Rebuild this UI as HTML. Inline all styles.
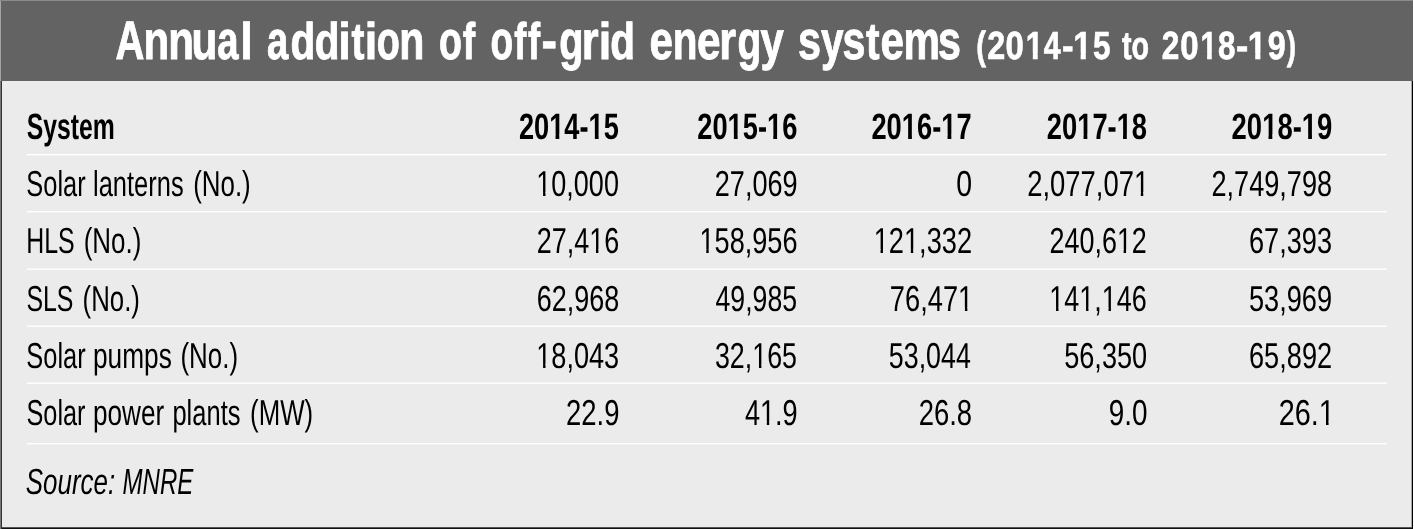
<!DOCTYPE html>
<html><head><meta charset="utf-8"><title>Annual addition of off-grid energy systems</title>
<style>
html,body{margin:0;padding:0;background:#fff;width:1414px;height:529px;overflow:hidden}
svg{display:block;will-change:transform;font-family:"Liberation Sans",sans-serif}
</style></head><body>
<svg width="1414" height="529" viewBox="0 0 1414 529">
<rect x="0" y="0" width="1413" height="1" fill="#8a8a8a"/>
<rect x="0" y="1" width="1" height="80" fill="#a5a5a5"/>
<rect x="0" y="81" width="1" height="448" fill="#777"/>
<rect x="1" y="1" width="1412" height="80" fill="#636363"/>
<rect x="1" y="81" width="1" height="448" fill="#333"/>
<rect x="1411" y="81" width="1" height="446" fill="#a8a8a8"/>
<rect x="1412" y="81" width="1" height="448" fill="#000"/>
<rect x="2" y="527" width="1410" height="1" fill="#555"/>
<rect x="2" y="528" width="1410" height="1" fill="#111"/>
<rect x="2" y="81" width="1409" height="446" fill="#ebebeb"/>
<rect x="27" y="154.0" width="1360" height="1.4" fill="#fff"/><rect x="27" y="211.0" width="1360" height="1.4" fill="#fff"/><rect x="27" y="268.5" width="1360" height="1.4" fill="#fff"/><rect x="27" y="325.5" width="1360" height="1.4" fill="#fff"/><rect x="27" y="382.5" width="1360" height="1.4" fill="#fff"/><rect x="27" y="443.0" width="1360" height="1.4" fill="#fff"/>
<g transform="translate(115.41 58.60) scale(0.7374 1.0000) skewX(0.05)"><text id="t0" font-size="54.215" font-weight="bold" fill="#fff" stroke="#fff" stroke-width="0.8" vector-effect="non-scaling-stroke">A</text></g>
<g transform="translate(143.38 58.60) scale(0.7771 1.0000) skewX(0.05)"><text id="t1" font-size="54.215" font-weight="bold" fill="#fff" stroke="#fff" stroke-width="0.8" vector-effect="non-scaling-stroke">n</text></g>
<g transform="translate(168.28 58.60) scale(0.7771 1.0000) skewX(0.05)"><text id="t2" font-size="54.215" font-weight="bold" fill="#fff" stroke="#fff" stroke-width="0.8" vector-effect="non-scaling-stroke">n</text></g>
<g transform="translate(191.62 58.60) scale(0.7816 1.0000) skewX(0.05)"><text id="t3" font-size="54.215" font-weight="bold" fill="#fff" stroke="#fff" stroke-width="0.8" vector-effect="non-scaling-stroke">u</text></g>
<g transform="translate(217.28 58.60) scale(0.7062 1.0000) skewX(0.05)"><text id="t4" font-size="54.215" font-weight="bold" fill="#fff" stroke="#fff" stroke-width="0.8" vector-effect="non-scaling-stroke">a</text></g>
<g transform="translate(240.27 58.60) scale(0.8333 0.9495) skewX(0.05)"><text id="t5" font-size="54.215" font-weight="bold" fill="#fff" stroke="#fff" stroke-width="0.8" vector-effect="non-scaling-stroke">l</text></g>
<g transform="translate(266.98 58.60) scale(0.7062 1.0000) skewX(0.05)"><text id="t6" font-size="54.215" font-weight="bold" fill="#fff" stroke="#fff" stroke-width="0.8" vector-effect="non-scaling-stroke">a</text></g>
<g transform="translate(290.54 58.60) scale(0.7476 0.9495) skewX(0.05)"><text id="t7" font-size="54.215" font-weight="bold" fill="#fff" stroke="#fff" stroke-width="0.8" vector-effect="non-scaling-stroke">d</text></g>
<g transform="translate(314.64 58.60) scale(0.7476 0.9495) skewX(0.05)"><text id="t8" font-size="54.215" font-weight="bold" fill="#fff" stroke="#fff" stroke-width="0.8" vector-effect="non-scaling-stroke">d</text></g>
<g transform="translate(338.18 58.60) scale(0.8326 0.9495) skewX(0.05)"><text id="t9" font-size="54.215" font-weight="bold" fill="#fff" stroke="#fff" stroke-width="0.8" vector-effect="non-scaling-stroke">i</text></g>
<g transform="translate(351.39 58.60) scale(0.7176 0.9570) skewX(0.05)"><text id="t10" font-size="54.215" font-weight="bold" fill="#fff" stroke="#fff" stroke-width="0.8" vector-effect="non-scaling-stroke">t</text></g>
<g transform="translate(364.68 58.60) scale(0.8326 0.9495) skewX(0.05)"><text id="t11" font-size="54.215" font-weight="bold" fill="#fff" stroke="#fff" stroke-width="0.8" vector-effect="non-scaling-stroke">i</text></g>
<g transform="translate(376.69 58.60) scale(0.6963 1.0000) skewX(0.05)"><text id="t12" font-size="54.215" font-weight="bold" fill="#fff" stroke="#fff" stroke-width="0.8" vector-effect="non-scaling-stroke">o</text></g>
<g transform="translate(399.23 58.60) scale(0.7586 1.0000) skewX(0.05)"><text id="t13" font-size="54.215" font-weight="bold" fill="#fff" stroke="#fff" stroke-width="0.8" vector-effect="non-scaling-stroke">n</text></g>
<g transform="translate(438.99 58.60) scale(0.6929 1.0000) skewX(0.05)"><text id="t14" font-size="54.215" font-weight="bold" fill="#fff" stroke="#fff" stroke-width="0.8" vector-effect="non-scaling-stroke">o</text></g>
<g transform="translate(462.69 58.60) scale(0.6895 0.9495) skewX(0.05)"><text id="t15" font-size="54.215" font-weight="bold" fill="#fff" stroke="#fff" stroke-width="0.8" vector-effect="non-scaling-stroke">f</text></g>
<g transform="translate(490.51 58.60) scale(0.6828 1.0000) skewX(0.05)"><text id="t16" font-size="54.215" font-weight="bold" fill="#fff" stroke="#fff" stroke-width="0.8" vector-effect="non-scaling-stroke">o</text></g>
<g transform="translate(514.20 58.60) scale(0.6729 0.9495) skewX(0.05)"><text id="t17" font-size="54.215" font-weight="bold" fill="#fff" stroke="#fff" stroke-width="0.8" vector-effect="non-scaling-stroke">f</text></g>
<g transform="translate(527.90 58.60) scale(0.6729 0.9495) skewX(0.05)"><text id="t18" font-size="54.215" font-weight="bold" fill="#fff" stroke="#fff" stroke-width="0.8" vector-effect="non-scaling-stroke">f</text></g>
<g transform="translate(541.53 58.60) scale(0.8594 1.0000) skewX(0.05)"><text id="t19" font-size="54.215" font-weight="bold" fill="#fff" stroke="#fff" stroke-width="0.8" vector-effect="non-scaling-stroke">-</text></g>
<g transform="translate(559.28 58.60) scale(0.7305 1.0000) skewX(0.05)"><text id="t20" font-size="54.215" font-weight="bold" fill="#fff" stroke="#fff" stroke-width="0.8" vector-effect="non-scaling-stroke">g</text></g>
<g transform="translate(581.70 58.60) scale(0.8015 1.0000) skewX(0.05)"><text id="t21" font-size="54.215" font-weight="bold" fill="#fff" stroke="#fff" stroke-width="0.8" vector-effect="non-scaling-stroke">r</text></g>
<g transform="translate(598.68 58.60) scale(0.8326 0.9495) skewX(0.05)"><text id="t22" font-size="54.215" font-weight="bold" fill="#fff" stroke="#fff" stroke-width="0.8" vector-effect="non-scaling-stroke">i</text></g>
<g transform="translate(610.14 58.60) scale(0.7476 0.9495) skewX(0.05)"><text id="t23" font-size="54.215" font-weight="bold" fill="#fff" stroke="#fff" stroke-width="0.8" vector-effect="non-scaling-stroke">d</text></g>
<g transform="translate(649.56 58.60) scale(0.7781 1.0000) skewX(0.05)"><text id="t24" font-size="54.215" font-weight="bold" fill="#fff" stroke="#fff" stroke-width="0.8" vector-effect="non-scaling-stroke">e</text></g>
<g transform="translate(672.67 58.60) scale(0.7475 1.0000) skewX(0.05)"><text id="t25" font-size="54.215" font-weight="bold" fill="#fff" stroke="#fff" stroke-width="0.8" vector-effect="non-scaling-stroke">n</text></g>
<g transform="translate(696.95 58.60) scale(0.7818 1.0000) skewX(0.05)"><text id="t26" font-size="54.215" font-weight="bold" fill="#fff" stroke="#fff" stroke-width="0.8" vector-effect="non-scaling-stroke">e</text></g>
<g transform="translate(719.22 58.60) scale(0.7958 1.0000) skewX(0.05)"><text id="t27" font-size="54.215" font-weight="bold" fill="#fff" stroke="#fff" stroke-width="0.8" vector-effect="non-scaling-stroke">r</text></g>
<g transform="translate(737.50 58.60) scale(0.7198 1.0000) skewX(0.05)"><text id="t28" font-size="54.215" font-weight="bold" fill="#fff" stroke="#fff" stroke-width="0.8" vector-effect="non-scaling-stroke">g</text></g>
<g transform="translate(760.57 58.60) scale(0.7721 1.0000) skewX(0.05)"><text id="t29" font-size="54.215" font-weight="bold" fill="#fff" stroke="#fff" stroke-width="0.8" vector-effect="non-scaling-stroke">y</text></g>
<g transform="translate(798.00 58.60) scale(0.7642 1.0000) skewX(0.05)"><text id="t30" font-size="54.215" font-weight="bold" fill="#fff" stroke="#fff" stroke-width="0.8" vector-effect="non-scaling-stroke">s</text></g>
<g transform="translate(821.07 58.60) scale(0.7489 1.0000) skewX(0.05)"><text id="t31" font-size="54.215" font-weight="bold" fill="#fff" stroke="#fff" stroke-width="0.8" vector-effect="non-scaling-stroke">y</text></g>
<g transform="translate(842.40 58.60) scale(0.7604 1.0000) skewX(0.05)"><text id="t32" font-size="54.215" font-weight="bold" fill="#fff" stroke="#fff" stroke-width="0.8" vector-effect="non-scaling-stroke">s</text></g>
<g transform="translate(866.08 58.60) scale(0.7515 0.9570) skewX(0.05)"><text id="t33" font-size="54.215" font-weight="bold" fill="#fff" stroke="#fff" stroke-width="0.8" vector-effect="non-scaling-stroke">t</text></g>
<g transform="translate(880.46 58.60) scale(0.7781 1.0000) skewX(0.05)"><text id="t34" font-size="54.215" font-weight="bold" fill="#fff" stroke="#fff" stroke-width="0.8" vector-effect="non-scaling-stroke">e</text></g>
<g transform="translate(903.54 58.60) scale(0.7577 1.0000) skewX(0.05)"><text id="t35" font-size="54.215" font-weight="bold" fill="#fff" stroke="#fff" stroke-width="0.8" vector-effect="non-scaling-stroke">m</text></g>
<g transform="translate(938.10 58.60) scale(0.7604 1.0000) skewX(0.05)"><text id="t36" font-size="54.215" font-weight="bold" fill="#fff" stroke="#fff" stroke-width="0.8" vector-effect="non-scaling-stroke">s</text></g>
<g transform="translate(976.28 58.60) scale(0.7442 1.0000) skewX(0.05)"><text id="t37" font-size="39.244" font-weight="bold" fill="#fff" stroke="#fff" stroke-width="0.6" vector-effect="non-scaling-stroke">(</text></g>
<g transform="translate(987.25 58.60) scale(0.8254 1.0000) skewX(0.05)"><text id="t38" font-size="39.244" font-weight="bold" fill="#fff" stroke="#fff" stroke-width="0.6" vector-effect="non-scaling-stroke">2</text></g>
<g transform="translate(1005.60 58.60) scale(0.8398 1.0000) skewX(0.05)"><text id="t39" font-size="39.244" font-weight="bold" fill="#fff" stroke="#fff" stroke-width="0.6" vector-effect="non-scaling-stroke">0</text></g>
<g transform="translate(1025.79 58.60) scale(0.8008 1.0000) skewX(0.05)"><text id="t40" font-size="39.244" font-weight="bold" fill="#fff" stroke="#fff" stroke-width="0.6" vector-effect="non-scaling-stroke">1</text><rect x="0.38" y="-5.00" width="8.38" height="6.80" fill="#636363"/><rect x="14.94" y="-5.00" width="7.10" height="6.80" fill="#636363"/></g>
<g transform="translate(1043.64 58.60) scale(0.7752 1.0000) skewX(0.05)"><text id="t41" font-size="39.244" font-weight="bold" fill="#fff" stroke="#fff" stroke-width="0.6" vector-effect="non-scaling-stroke">4</text></g>
<g transform="translate(1062.08 58.60) scale(0.8873 1.0000) skewX(0.05)"><text id="t42" font-size="39.244" font-weight="bold" fill="#fff" stroke="#fff" stroke-width="0.6" vector-effect="non-scaling-stroke">-</text></g>
<g transform="translate(1073.18 58.60) scale(0.8479 1.0000) skewX(0.05)"><text id="t43" font-size="39.244" font-weight="bold" fill="#fff" stroke="#fff" stroke-width="0.6" vector-effect="non-scaling-stroke">1</text><rect x="0.38" y="-5.00" width="8.40" height="6.80" fill="#636363"/><rect x="14.92" y="-5.00" width="7.12" height="6.80" fill="#636363"/></g>
<g transform="translate(1093.10 58.60) scale(0.8030 1.0000) skewX(0.05)"><text id="t44" font-size="39.244" font-weight="bold" fill="#fff" stroke="#fff" stroke-width="0.6" vector-effect="non-scaling-stroke">5</text></g>
<g transform="translate(1122.05 58.60) scale(0.7317 1.0000) skewX(0.05)"><text id="t45" font-size="39.244" font-weight="bold" fill="#fff" stroke="#fff" stroke-width="0.6" vector-effect="non-scaling-stroke">to</text></g>
<g transform="translate(1161.67 58.60) scale(0.8051 1.0000) skewX(0.05)"><text id="t46" font-size="39.244" font-weight="bold" fill="#fff" stroke="#fff" stroke-width="0.6" vector-effect="non-scaling-stroke">2</text></g>
<g transform="translate(1180.20 58.60) scale(0.8398 1.0000) skewX(0.05)"><text id="t47" font-size="39.244" font-weight="bold" fill="#fff" stroke="#fff" stroke-width="0.6" vector-effect="non-scaling-stroke">0</text></g>
<g transform="translate(1200.51 58.60) scale(0.7537 1.0000) skewX(0.05)"><text id="t48" font-size="39.244" font-weight="bold" fill="#fff" stroke="#fff" stroke-width="0.6" vector-effect="non-scaling-stroke">1</text><rect x="0.38" y="-5.00" width="8.36" height="6.80" fill="#636363"/><rect x="14.96" y="-5.00" width="7.08" height="6.80" fill="#636363"/></g>
<g transform="translate(1217.92 58.60) scale(0.7993 1.0000) skewX(0.05)"><text id="t49" font-size="39.244" font-weight="bold" fill="#fff" stroke="#fff" stroke-width="0.6" vector-effect="non-scaling-stroke">8</text></g>
<g transform="translate(1236.01 58.60) scale(0.9427 1.0000) skewX(0.05)"><text id="t50" font-size="39.244" font-weight="bold" fill="#fff" stroke="#fff" stroke-width="0.6" vector-effect="non-scaling-stroke">-</text></g>
<g transform="translate(1247.78 58.60) scale(0.8479 1.0000) skewX(0.05)"><text id="t51" font-size="39.244" font-weight="bold" fill="#fff" stroke="#fff" stroke-width="0.6" vector-effect="non-scaling-stroke">1</text><rect x="0.38" y="-5.00" width="8.40" height="6.80" fill="#636363"/><rect x="14.92" y="-5.00" width="7.12" height="6.80" fill="#636363"/></g>
<g transform="translate(1267.65 58.60) scale(0.8245 1.0000) skewX(0.05)"><text id="t52" font-size="39.244" font-weight="bold" fill="#fff" stroke="#fff" stroke-width="0.6" vector-effect="non-scaling-stroke">9</text></g>
<g transform="translate(1286.68 58.60) scale(0.7150 1.0000) skewX(0.05)"><text id="t53" font-size="39.244" font-weight="bold" fill="#fff" stroke="#fff" stroke-width="0.6" vector-effect="non-scaling-stroke">)</text></g>
<g transform="translate(26.66 139.00) scale(0.6767 1.0000) skewX(0.05)"><text id="t54" font-size="36.628" font-weight="bold" fill="#000">System</text></g>
<g transform="translate(518.91 139.00) scale(0.7435 1.0000) skewX(0.05)"><text id="t55" font-size="36.628" font-weight="bold" fill="#000">2014-15</text><rect x="41.08" y="-4.44" width="8.17" height="5.94" fill="#ebebeb"/><rect x="54.31" y="-4.44" width="6.98" height="5.94" fill="#ebebeb"/><rect x="93.98" y="-4.44" width="8.17" height="5.94" fill="#ebebeb"/><rect x="107.22" y="-4.44" width="6.98" height="5.94" fill="#ebebeb"/></g>
<g transform="translate(697.21 139.00) scale(0.7449 1.0000) skewX(0.05)"><text id="t56" font-size="36.628" font-weight="bold" fill="#000">2015-16</text><rect x="41.08" y="-4.44" width="8.17" height="5.94" fill="#ebebeb"/><rect x="54.31" y="-4.44" width="6.98" height="5.94" fill="#ebebeb"/><rect x="93.98" y="-4.44" width="8.17" height="5.94" fill="#ebebeb"/><rect x="107.22" y="-4.44" width="6.98" height="5.94" fill="#ebebeb"/></g>
<g transform="translate(871.41 139.00) scale(0.7455 1.0000) skewX(0.05)"><text id="t57" font-size="36.628" font-weight="bold" fill="#000">2016-17</text><rect x="41.08" y="-4.44" width="8.17" height="5.94" fill="#ebebeb"/><rect x="54.31" y="-4.44" width="6.98" height="5.94" fill="#ebebeb"/><rect x="93.98" y="-4.44" width="8.17" height="5.94" fill="#ebebeb"/><rect x="107.22" y="-4.44" width="6.98" height="5.94" fill="#ebebeb"/></g>
<g transform="translate(1046.81 139.00) scale(0.7462 1.0000) skewX(0.05)"><text id="t58" font-size="36.628" font-weight="bold" fill="#000">2017-18</text><rect x="41.08" y="-4.44" width="8.17" height="5.94" fill="#ebebeb"/><rect x="54.31" y="-4.44" width="6.98" height="5.94" fill="#ebebeb"/><rect x="93.98" y="-4.44" width="8.17" height="5.94" fill="#ebebeb"/><rect x="107.22" y="-4.44" width="6.98" height="5.94" fill="#ebebeb"/></g>
<g transform="translate(1231.61 139.00) scale(0.7495 1.0000) skewX(0.05)"><text id="t59" font-size="36.628" font-weight="bold" fill="#000">2018-19</text><rect x="41.08" y="-4.44" width="8.17" height="5.94" fill="#ebebeb"/><rect x="54.31" y="-4.44" width="6.98" height="5.94" fill="#ebebeb"/><rect x="93.98" y="-4.44" width="8.17" height="5.94" fill="#ebebeb"/><rect x="107.22" y="-4.44" width="6.98" height="5.94" fill="#ebebeb"/></g>
<g transform="translate(26.35 195.60) scale(0.7062 1.0000) skewX(0.05)"><text id="t60" font-size="36.047" fill="#000">Solar</text></g>
<g transform="translate(92.97 195.60) scale(0.7073 1.0000) skewX(0.05)"><text id="t61" font-size="36.047" fill="#000">lanterns</text></g>
<g transform="translate(193.15 195.60) scale(0.7194 1.0000) skewX(0.05)"><text id="t62" font-size="36.047" fill="#000">(No.)</text></g>
<g transform="translate(536.29 195.60) scale(0.7498 1.0000) skewX(0.05)"><text id="t63" font-size="36.047" fill="#000">10,000</text><rect x="0.70" y="-3.52" width="8.34" height="5.02" fill="#ebebeb"/><rect x="12.27" y="-3.52" width="7.45" height="5.02" fill="#ebebeb"/></g>
<g transform="translate(714.77 195.60) scale(0.7516 1.0000) skewX(0.05)"><text id="t64" font-size="36.047" fill="#000">27,069</text></g>
<g transform="translate(956.16 195.60) scale(0.7898 1.0000) skewX(0.05)"><text id="t65" font-size="36.047" fill="#000">0</text></g>
<g transform="translate(1027.25 195.60) scale(0.7606 1.0000) skewX(0.05)"><text id="t66" font-size="36.047" fill="#000">2,077,071</text><rect x="140.95" y="-3.52" width="8.34" height="5.02" fill="#ebebeb"/><rect x="152.52" y="-3.52" width="7.45" height="5.02" fill="#ebebeb"/></g>
<g transform="translate(1211.47 195.60) scale(0.7524 1.0000) skewX(0.05)"><text id="t67" font-size="36.047" fill="#000">2,749,798</text></g>
<g transform="translate(26.13 252.70) scale(0.6924 1.0000) skewX(0.05)"><text id="t68" font-size="36.047" fill="#000">HLS</text></g>
<g transform="translate(83.64 252.70) scale(0.7207 1.0000) skewX(0.05)"><text id="t69" font-size="36.047" fill="#000">(No.)</text></g>
<g transform="translate(536.68 252.70) scale(0.7490 1.0000) skewX(0.05)"><text id="t70" font-size="36.047" fill="#000">27,416</text><rect x="70.83" y="-3.52" width="8.34" height="5.02" fill="#ebebeb"/><rect x="82.39" y="-3.52" width="7.45" height="5.02" fill="#ebebeb"/></g>
<g transform="translate(699.48 252.70) scale(0.7530 1.0000) skewX(0.05)"><text id="t71" font-size="36.047" fill="#000">158,956</text><rect x="0.70" y="-3.52" width="8.34" height="5.02" fill="#ebebeb"/><rect x="12.27" y="-3.52" width="7.45" height="5.02" fill="#ebebeb"/></g>
<g transform="translate(873.67 252.70) scale(0.7562 1.0000) skewX(0.05)"><text id="t72" font-size="36.047" fill="#000">121,332</text><rect x="0.70" y="-3.52" width="8.34" height="5.02" fill="#ebebeb"/><rect x="12.27" y="-3.52" width="7.45" height="5.02" fill="#ebebeb"/><rect x="40.77" y="-3.52" width="8.34" height="5.02" fill="#ebebeb"/><rect x="52.33" y="-3.52" width="7.45" height="5.02" fill="#ebebeb"/></g>
<g transform="translate(1049.48 252.70) scale(0.7476 1.0000) skewX(0.05)"><text id="t73" font-size="36.047" fill="#000">240,612</text><rect x="90.86" y="-3.52" width="8.34" height="5.02" fill="#ebebeb"/><rect x="102.42" y="-3.52" width="7.45" height="5.02" fill="#ebebeb"/></g>
<g transform="translate(1248.95 252.70) scale(0.7537 1.0000) skewX(0.05)"><text id="t74" font-size="36.047" fill="#000">67,393</text></g>
<g transform="translate(26.38 311.00) scale(0.6914 1.0000) skewX(0.05)"><text id="t75" font-size="36.047" fill="#000">SLS</text></g>
<g transform="translate(82.55 311.00) scale(0.7167 1.0000) skewX(0.05)"><text id="t76" font-size="36.047" fill="#000">(No.)</text></g>
<g transform="translate(536.66 311.00) scale(0.7491 1.0000) skewX(0.05)"><text id="t77" font-size="36.047" fill="#000">62,968</text></g>
<g transform="translate(715.51 311.00) scale(0.7399 1.0000) skewX(0.05)"><text id="t78" font-size="36.047" fill="#000">49,985</text></g>
<g transform="translate(889.84 311.00) scale(0.7570 1.0000) skewX(0.05)"><text id="t79" font-size="36.047" fill="#000">76,471</text><rect x="90.86" y="-3.52" width="8.34" height="5.02" fill="#ebebeb"/><rect x="102.42" y="-3.52" width="7.45" height="5.02" fill="#ebebeb"/></g>
<g transform="translate(1049.30 311.00) scale(0.7482 1.0000) skewX(0.05)"><text id="t80" font-size="36.047" fill="#000">141,146</text><rect x="0.70" y="-3.52" width="8.34" height="5.02" fill="#ebebeb"/><rect x="12.27" y="-3.52" width="7.45" height="5.02" fill="#ebebeb"/><rect x="40.77" y="-3.52" width="8.34" height="5.02" fill="#ebebeb"/><rect x="52.33" y="-3.52" width="7.45" height="5.02" fill="#ebebeb"/><rect x="70.83" y="-3.52" width="8.34" height="5.02" fill="#ebebeb"/><rect x="82.39" y="-3.52" width="7.45" height="5.02" fill="#ebebeb"/></g>
<g transform="translate(1248.99 311.00) scale(0.7541 1.0000) skewX(0.05)"><text id="t81" font-size="36.047" fill="#000">53,969</text></g>
<g transform="translate(26.35 367.80) scale(0.7062 1.0000) skewX(0.05)"><text id="t82" font-size="36.047" fill="#000">Solar</text></g>
<g transform="translate(92.96 367.80) scale(0.7293 1.0000) skewX(0.05)"><text id="t83" font-size="36.047" fill="#000">pumps</text></g>
<g transform="translate(180.45 367.80) scale(0.7194 1.0000) skewX(0.05)"><text id="t84" font-size="36.047" fill="#000">(No.)</text></g>
<g transform="translate(536.28 367.80) scale(0.7525 1.0000) skewX(0.05)"><text id="t85" font-size="36.047" fill="#000">18,043</text><rect x="0.70" y="-3.52" width="8.34" height="5.02" fill="#ebebeb"/><rect x="12.27" y="-3.52" width="7.45" height="5.02" fill="#ebebeb"/></g>
<g transform="translate(714.93 367.80) scale(0.7453 1.0000) skewX(0.05)"><text id="t86" font-size="36.047" fill="#000">32,165</text><rect x="50.78" y="-3.52" width="8.34" height="5.02" fill="#ebebeb"/><rect x="62.35" y="-3.52" width="7.45" height="5.02" fill="#ebebeb"/></g>
<g transform="translate(888.81 367.80) scale(0.7444 1.0000) skewX(0.05)"><text id="t87" font-size="36.047" fill="#000">53,044</text></g>
<g transform="translate(1064.20 367.80) scale(0.7525 1.0000) skewX(0.05)"><text id="t88" font-size="36.047" fill="#000">56,350</text></g>
<g transform="translate(1248.95 367.80) scale(0.7548 1.0000) skewX(0.05)"><text id="t89" font-size="36.047" fill="#000">65,892</text></g>
<g transform="translate(26.46 424.80) scale(0.7025 1.0000) skewX(0.05)"><text id="t90" font-size="36.047" fill="#000">Solar</text></g>
<g transform="translate(92.97 424.80) scale(0.7261 1.0000) skewX(0.05)"><text id="t91" font-size="36.047" fill="#000">power</text></g>
<g transform="translate(172.41 424.80) scale(0.7083 1.0000) skewX(0.05)"><text id="t92" font-size="36.047" fill="#000">plants</text></g>
<g transform="translate(250.05 424.80) scale(0.7175 1.0000) skewX(0.05)"><text id="t93" font-size="36.047" fill="#000">(MW)</text></g>
<g transform="translate(566.05 424.80) scale(0.7610 1.0000) skewX(0.05)"><text id="t94" font-size="36.047" fill="#000">22.9</text></g>
<g transform="translate(744.90 424.80) scale(0.7530 1.0000) skewX(0.05)"><text id="t95" font-size="36.047" fill="#000">41.9</text><rect x="20.74" y="-3.52" width="8.34" height="5.02" fill="#ebebeb"/><rect x="32.30" y="-3.52" width="7.45" height="5.02" fill="#ebebeb"/></g>
<g transform="translate(918.65 424.80) scale(0.7627 1.0000) skewX(0.05)"><text id="t96" font-size="36.047" fill="#000">26.8</text></g>
<g transform="translate(1108.68 424.80) scale(0.7731 1.0000) skewX(0.05)"><text id="t97" font-size="36.047" fill="#000">9.0</text></g>
<g transform="translate(1278.68 424.80) scale(0.8005 1.0000) skewX(0.05)"><text id="t98" font-size="36.047" fill="#000">26.1</text><rect x="50.78" y="-3.52" width="8.34" height="5.02" fill="#ebebeb"/><rect x="62.35" y="-3.52" width="7.45" height="5.02" fill="#ebebeb"/></g>
<g transform="translate(25.71 493.80) scale(0.7174 1.0000) skewX(0.05)"><text id="t99" font-size="36.192" font-style="italic" fill="#000">Source:</text></g>
<g transform="translate(122.54 493.80) scale(0.6653 1.0000) skewX(0.05)"><text id="t100" font-size="36.192" font-style="italic" fill="#000">MNRE</text></g>
</svg>
</body></html>
